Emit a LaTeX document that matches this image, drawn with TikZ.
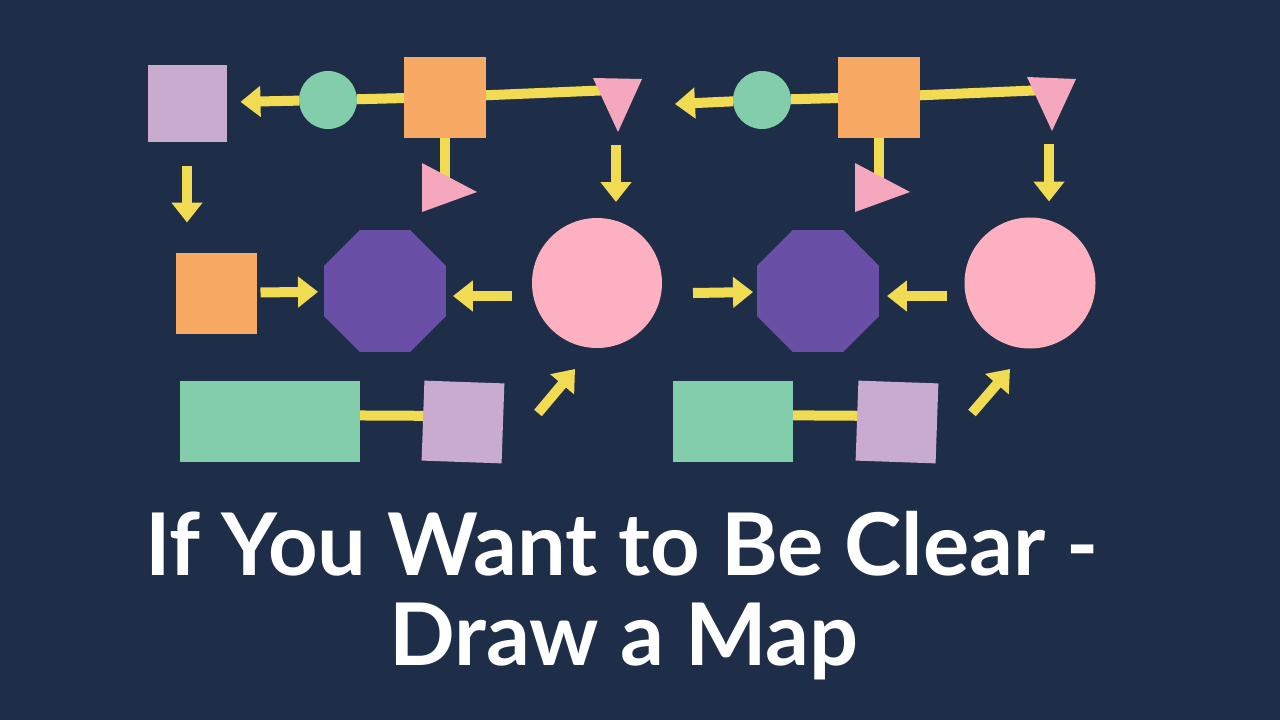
\documentclass[tikz,border=0pt]{standalone}
\usepackage{fontspec}
\setmainfont{Lato}
\usetikzlibrary{arrows.meta,shapes.geometric}
\definecolor{navy}{HTML}{1F2E48}
\definecolor{lilac}{HTML}{C9ABD0}
\definecolor{mint}{HTML}{82CDAA}
\definecolor{orng}{HTML}{F8AA64}
\definecolor{pinkc}{HTML}{F5A8BD}
\definecolor{rosec}{HTML}{FDB0C0}
\definecolor{purp}{HTML}{6A4FA7}
\definecolor{ylw}{HTML}{F0DB52}
\pgfdeclarelayer{back}
\pgfdeclarelayer{bars}
\pgfsetlayers{back,bars,main}
\tikzset{
  card/.style={inner sep=0,outer sep=0},
  octo/.style={card,regular polygon,regular polygon sides=8,minimum size=132pt,fill=purp},
  bar/.style={line width=10pt,draw=ylw},
  yarrow/.style={bar,-{Triangle[length=20pt,width=30pt]}},
  title/.style={text=white,anchor=base,font=\bfseries\fontsize{86.5}{95}\selectfont}
}
\begin{document}
\begin{tikzpicture}[x=1pt,y=-1pt]
\begin{pgfonlayer}{back}
\fill[navy](0,0)rectangle(1280,720);
\end{pgfonlayer}
%left map
\node[card,fill=lilac,minimum width=79pt,minimum height=77pt](sqA)at(187,103){};
\node[card,circle,fill=mint,minimum size=58pt](circA)at(328,100){};
\node[card,fill=orng,minimum width=82pt,minimum height=81pt](orA)at(445,97){};
\fill[pinkc](593,78)--(642,79)--(618,132)--cycle;
\coordinate(triA)at(612,90);
\coordinate(tipA)at(616,132);
\fill[pinkc](422,163)--(477,192)--(422,212)--cycle;
\coordinate(triB)at(445,188);
\node[card,fill=orng,minimum width=81pt,minimum height=81pt](orB)at(216,293){};
\node[octo](octA)at(385,291){};
\node[card,circle,fill=rosec,minimum size=130pt](circB)at(597,283){};
\node[card,fill=mint,minimum width=180pt,minimum height=81pt](rectA)at(270,421){};
\node[card,fill=lilac,minimum width=80pt,minimum height=80pt,rotate=-2](sqB)at(463,422){};
\coordinate(dgA)at(538,413);
\begin{pgfonlayer}{bars}
\draw[bar](circA)--(orA);
\draw[bar](orA)--(triA);
\draw[bar](orA)--(triB);
\draw[bar]([yshift=6pt]rectA.center)--([yshift=6pt]sqB.center);
\end{pgfonlayer}
\draw[yarrow,shorten >=14pt](circA)--(sqA);
\draw[yarrow,shorten <=24pt,shorten >=30pt](sqA.south)--(sqA.south|-orB.north);
\draw[yarrow,shorten <=13pt,shorten >=16pt](tipA)--(tipA|-circB.north);
\draw[yarrow,shorten <=4pt,shorten >=6pt](orB)--(octA);
\draw[yarrow,shorten <=20pt,shorten >=7pt]([yshift=-13pt]circB.west)--([yshift=-13pt]circB.west-|octA.east);
\draw[yarrow](dgA)--++(37,-44);
%right map
\node[card,circle,fill=mint,minimum size=58pt](circC)at(762,100){};
\coordinate(endC)at(675,104);
\node[card,fill=orng,minimum width=82pt,minimum height=81pt](orC)at(879,97){};
\fill[pinkc](1027,77)--(1076,79)--(1052,131)--cycle;
\coordinate(triC)at(1046,90);
\coordinate(tipC)at(1049,131);
\fill[pinkc](855,163)--(910,192)--(855,212)--cycle;
\coordinate(triD)at(879,188);
\coordinate(startC)at(693,293);
\node[octo](octB)at(818,291){};
\node[card,circle,fill=rosec,minimum size=131pt](circD)at(1030,283){};
\node[card,fill=mint,minimum width=120pt,minimum height=81pt](rectB)at(733,421){};
\node[card,fill=lilac,minimum width=80pt,minimum height=80pt,rotate=-2](sqC)at(897,422){};
\coordinate(dgB)at(972,413);
\begin{pgfonlayer}{bars}
\draw[bar](circC)--(orC);
\draw[bar](orC)--(triC);
\draw[bar](orC)--(triD);
\draw[bar]([yshift=6pt]rectB.center)--([yshift=6pt]sqC.center);
\end{pgfonlayer}
\draw[yarrow](circC)--(endC);
\draw[yarrow,shorten <=13pt,shorten >=16pt](tipC)--(tipC|-circD.north);
\draw[yarrow,shorten >=4pt](startC)--(octB);
\draw[yarrow,shorten <=18pt,shorten >=8pt]([yshift=-13pt]circD.west)--([yshift=-13pt]circD.west-|octB.east);
\draw[yarrow](dgB)--++(38,-44);
%title
\node[title](line1)at(622,575){If You Want to Be Clear -};
\node[title](line2)at(624,665){Draw a Map};
\end{tikzpicture}
\end{document}
